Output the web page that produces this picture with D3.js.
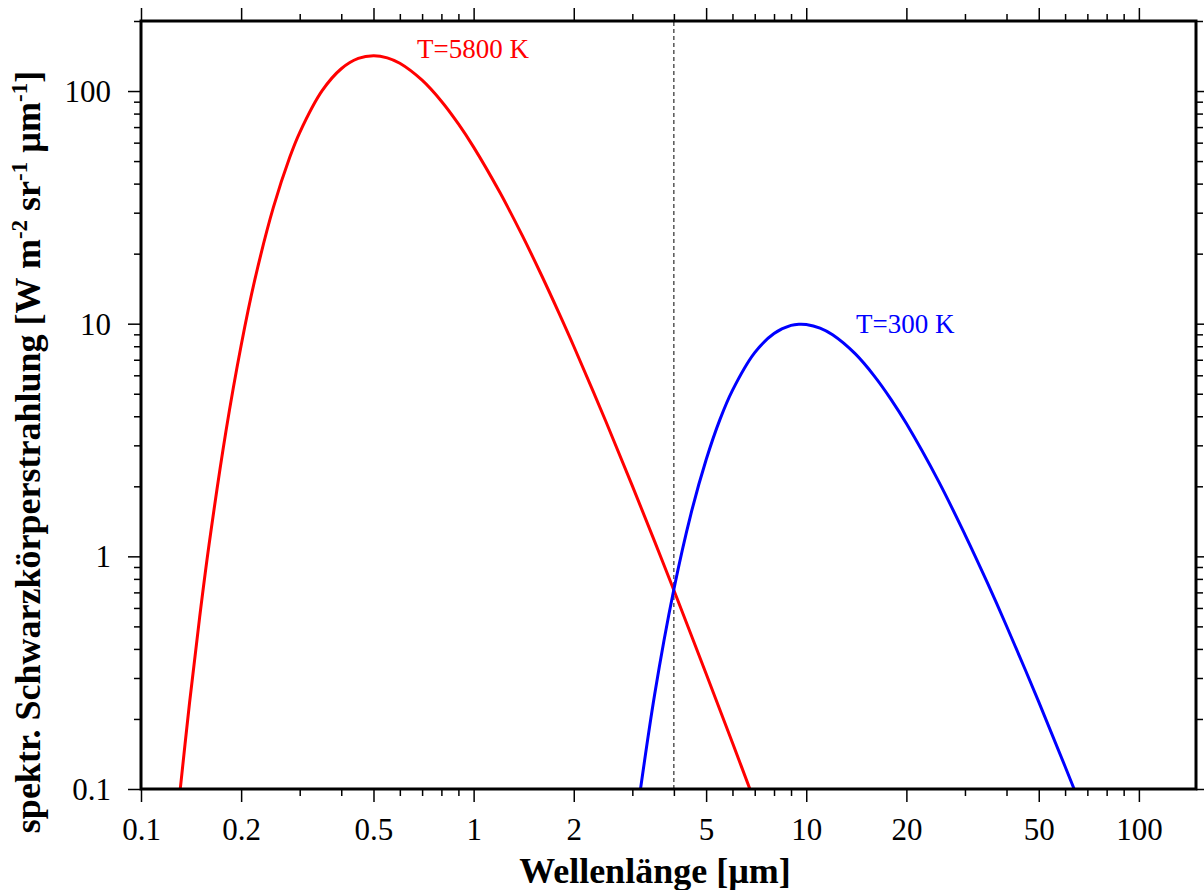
<!DOCTYPE html>
<html>
<head>
<meta charset="utf-8">
<script src="https://cdn.jsdelivr.net/npm/d3@7"></script>
<style>
  html, body { margin: 0; padding: 0; background: #fff; }
  svg { display: block; }
  text { font-family: "Liberation Serif", "Times New Roman", serif; }
</style>
</head>
<body>
<svg id="chart" width="1204" height="890"></svg>
<script>
// Wavelength [µm] and spectral radiance
const sunWavelength = [0.13, 0.14, 0.15, 0.16, 0.18, 0.2, 0.22, 0.25, 0.28, 0.3, 0.35, 0.4, 0.45, 0.5, 0.55, 0.6, 0.7, 0.8, 0.9, 1.0, 1.2, 1.4, 1.6, 1.8, 2.0, 2.5, 3.0, 3.5, 4.0, 5.0, 6.0, 7.0];
const sunRadiance   = [0.088, 0.236, 0.544, 1.11, 3.44, 8.06, 15.5, 31.6, 51.9, 66.3, 100.1, 124.7, 138.1, 141.9, 138.9, 131.6, 111.3, 90.4, 72.2, 57.4, 36.6, 23.95, 16.15, 11.21, 8.0, 3.79, 2.01, 1.16, 0.715, 0.313, 0.158, 0.088];

const earthWavelength = [3.0, 3.5, 4.0, 4.5, 5.0, 5.5, 6.0, 7.0, 8.0, 9.0, 9.5, 10, 11, 12, 14, 16, 18, 20, 25, 30, 35, 40, 50, 60, 70];
const earthRadiance   = [0.056, 0.254, 0.722, 1.52, 2.60, 3.87, 5.17, 7.51, 9.08, 9.83, 9.95, 9.92, 9.57, 8.96, 7.45, 5.97, 4.72, 3.72, 2.10, 1.24, 0.772, 0.502, 0.237, 0.125, 0.072];

const seriesLabels = ["T=5800 K", "T=300 K"];
const crossingWavelength = 4;

const xMajorTicks = [0.1, 0.2, 0.5, 1, 2, 5, 10, 20, 50, 100];
const xMinorTicks = [0.3, 0.4, 0.6, 0.7, 0.8, 0.9, 3, 4, 6, 7, 8, 9, 30, 40, 60, 70, 80, 90];
const yMajorTicks = [0.1, 1, 10, 100];
const yMinorTicks = [0.2, 0.3, 0.4, 0.5, 0.6, 0.7, 0.8, 0.9, 2, 3, 4, 5, 6, 7, 8, 9, 20, 30, 40, 50, 60, 70, 80, 90, 200];

const xTitle = "Wellenlänge [µm]";

// Layout
const L = 141, R = 1196, T = 21, B = 789;
const svg = d3.select("#chart");

const x = d3.scaleLog().domain([0.1, 148.5]).range([L, R]);
const y = d3.scaleLog().domain([0.1, 200]).range([B, T]);

const fmt = d => String(d);
const majorLen = 13, minorLen = 7;

function styleAxis(g) {
  g.select(".domain").remove();
  g.selectAll(".tick line").attr("stroke", "#000").attr("stroke-width", 1.5);
  g.selectAll("text").attr("fill", "#000").style("font-size", "31px");
}

// bottom
svg.append("g").attr("transform", `translate(0,${B})`)
  .call(d3.axisBottom(x).tickValues(xMajorTicks).tickSize(majorLen).tickFormat(fmt))
  .call(styleAxis)
  .call(g => g.selectAll("text").attr("y", 51).attr("dy", 0));
svg.append("g").attr("transform", `translate(0,${B})`)
  .call(d3.axisBottom(x).tickValues(xMinorTicks).tickSize(minorLen).tickFormat(""))
  .call(styleAxis);
// top
svg.append("g").attr("transform", `translate(0,${T})`)
  .call(d3.axisTop(x).tickValues(xMajorTicks).tickSize(majorLen).tickFormat(""))
  .call(styleAxis);
svg.append("g").attr("transform", `translate(0,${T})`)
  .call(d3.axisTop(x).tickValues(xMinorTicks).tickSize(minorLen).tickFormat(""))
  .call(styleAxis);
// left
svg.append("g").attr("transform", `translate(${L},0)`)
  .call(d3.axisLeft(y).tickValues(yMajorTicks).tickSize(majorLen).tickPadding(17).tickFormat(fmt))
  .call(styleAxis)
  .call(g => g.selectAll("text").attr("dy", "0.34em"));
svg.append("g").attr("transform", `translate(${L},0)`)
  .call(d3.axisLeft(y).tickValues(yMinorTicks).tickSize(minorLen).tickFormat(""))
  .call(styleAxis);
// right
svg.append("g").attr("transform", `translate(${R},0)`)
  .call(d3.axisRight(y).tickValues(yMajorTicks).tickSize(majorLen).tickFormat(""))
  .call(styleAxis);
svg.append("g").attr("transform", `translate(${R},0)`)
  .call(d3.axisRight(y).tickValues(yMinorTicks).tickSize(minorLen).tickFormat(""))
  .call(styleAxis);

// clip
svg.append("defs").append("clipPath").attr("id", "plotclip")
  .append("rect").attr("x", L).attr("y", T).attr("width", R - L).attr("height", B - T);

const plot = svg.append("g").attr("clip-path", "url(#plotclip)");

// dashed vertical line
plot.append("line")
  .attr("x1", x(crossingWavelength)).attr("x2", x(crossingWavelength))
  .attr("y1", B).attr("y2", T)
  .attr("stroke", "#000").attr("stroke-width", 1).attr("stroke-dasharray", "4,3");

const line = d3.line().x(d => x(d[0])).y(d => y(d[1])).curve(d3.curveCatmullRom.alpha(0.5));

plot.append("path")
  .datum(d3.zip(sunWavelength, sunRadiance))
  .attr("d", line).attr("fill", "none").attr("stroke", "#ff0000").attr("stroke-width", 3);

plot.append("path")
  .datum(d3.zip(earthWavelength, earthRadiance))
  .attr("d", line).attr("fill", "none").attr("stroke", "#0000ff").attr("stroke-width", 3);

// frame
svg.append("rect").attr("x", L).attr("y", T).attr("width", R - L).attr("height", B - T)
  .attr("fill", "none").attr("stroke", "#000").attr("stroke-width", 3);

// series labels
svg.append("text").attr("x", 417).attr("y", 58).attr("fill", "#ff0000")
  .style("font-size", "27px").text(seriesLabels[0]);
svg.append("text").attr("x", 856).attr("y", 333).attr("fill", "#0000ff")
  .style("font-size", "27px").text(seriesLabels[1]);

// x title
svg.append("text").attr("x", 655).attr("y", 883).attr("text-anchor", "middle")
  .style("font-size", "36px").style("font-weight", "bold").text(xTitle);

// y title with superscripts
const yt = svg.append("text")
  .attr("transform", "translate(40,452) rotate(-90)")
  .attr("text-anchor", "middle")
  .style("font-size", "36px").style("font-weight", "bold");
yt.append("tspan").text("spektr. Schwarzkörperstrahlung [W m");
yt.append("tspan").attr("dy", -13).style("font-size", "23px").text("-2");
yt.append("tspan").attr("dy", 13).text(" sr");
yt.append("tspan").attr("dy", -13).style("font-size", "23px").text("-1");
yt.append("tspan").attr("dy", 13).text(" µm");
yt.append("tspan").attr("dy", -13).style("font-size", "23px").text("-1");
yt.append("tspan").attr("dy", 13).text("]");
</script>
</body>
</html>
